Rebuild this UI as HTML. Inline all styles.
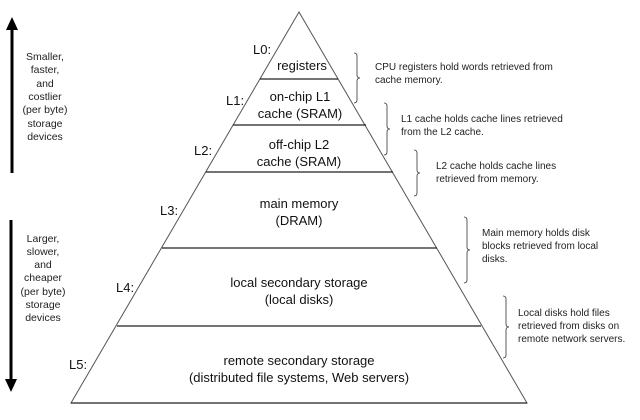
<!DOCTYPE html>
<html><head><meta charset="utf-8"><style>
html,body{margin:0;padding:0;background:#fff;}
svg{display:block;font-family:"Liberation Sans",Arial,sans-serif;}
</style></head><body>
<svg width="640" height="420" viewBox="0 0 640 420" xmlns="http://www.w3.org/2000/svg">
<g stroke="#555" stroke-width="1" fill="none">
<polygon points="299,12 71,403 527,403"/>
</g>
<g stroke="#222" stroke-width="1.2">
<line x1="260" y1="79" x2="338" y2="79"/>
<line x1="233" y1="125" x2="366" y2="125"/>
<line x1="206" y1="172" x2="393" y2="172"/>
<line x1="162" y1="248" x2="437" y2="248"/>
<line x1="117" y1="326" x2="481" y2="326"/>
<line x1="71" y1="403" x2="527" y2="403"/>
</g>
<!-- arrows -->
<line x1="12" y1="173" x2="12" y2="30" stroke="#000" stroke-width="3"/>
<polygon points="12,17 6,30 18,30" fill="#000"/>
<line x1="11" y1="220" x2="11" y2="380" stroke="#000" stroke-width="3"/>
<polygon points="11,392 5,379 17,379" fill="#000"/>
<g font-size="10.5" fill="#222" text-anchor="middle">
<text x="45" y="60">Smaller,</text>
<text x="45" y="73">faster,</text>
<text x="45" y="87">and</text>
<text x="45" y="100">costlier</text>
<text x="45" y="113">(per byte)</text>
<text x="45" y="127">storage</text>
<text x="45" y="140">devices</text>
<text x="43" y="242">Larger,</text>
<text x="43" y="255">slower,</text>
<text x="43" y="268">and</text>
<text x="43" y="281">cheaper</text>
<text x="43" y="295">(per byte)</text>
<text x="43" y="308">storage</text>
<text x="43" y="321">devices</text>
</g>
<g font-size="13" fill="#111">
<text x="253" y="54">L0:</text>
<text x="226" y="105">L1:</text>
<text x="194" y="155">L2:</text>
<text x="160" y="215">L3:</text>
<text x="116" y="292">L4:</text>
<text x="69" y="369">L5:</text>
</g>
<g font-size="13" fill="#111" text-anchor="middle">
<text x="302" y="70">registers</text>
<text x="300" y="101">on-chip L1</text>
<text x="300" y="118">cache (SRAM)</text>
<text x="299" y="149">off-chip L2</text>
<text x="299" y="166">cache (SRAM)</text>
<text x="299" y="208">main memory</text>
<text x="299" y="225">(DRAM)</text>
<text x="299" y="287">local secondary storage</text>
<text x="299" y="304">(local disks)</text>
<text x="299" y="365">remote secondary storage</text>
<text x="299" y="382">(distributed file systems, Web servers)</text>
</g>
<g stroke="#333" stroke-width="0.8" fill="none">
<path d="M354,53 q3,0 3,3 v19 q0,3 3,3 q-3,0 -3,3 v19 q0,3 -3,3"/>
<path d="M384,103 q3,0 3,3 v20 q0,3 3,3 q-3,0 -3,3 v20 q0,3 -3,3"/>
<path d="M414,150 q3,0 3,3 v17 q0,3 3,3 q-3,0 -3,3 v17 q0,3 -3,3"/>
<path d="M464,217 q3,0 3,3 v27 q0,3 3,3 q-3,0 -3,3 v27 q0,3 -3,3"/>
<path d="M503,296 q3,0 3,3 v25 q0,3 3,3 q-3,0 -3,3 v25 q0,3 -3,3"/>
</g>
<g font-size="10" fill="#222">
<text x="375" y="70">CPU registers hold words retrieved from</text>
<text x="375" y="83">cache memory.</text>
<text x="401" y="122">L1 cache holds cache lines retrieved</text>
<text x="401" y="135">from the L2 cache.</text>
<text x="436" y="169">L2 cache holds cache lines</text>
<text x="436" y="182">retrieved from memory.</text>
<text x="482" y="236">Main memory holds disk</text>
<text x="482" y="249">blocks retrieved from local</text>
<text x="482" y="262">disks.</text>
<text x="518" y="316">Local disks hold files</text>
<text x="518" y="329">retrieved from disks on</text>
<text x="518" y="342">remote network servers.</text>
</g>
</svg>
</body></html>
